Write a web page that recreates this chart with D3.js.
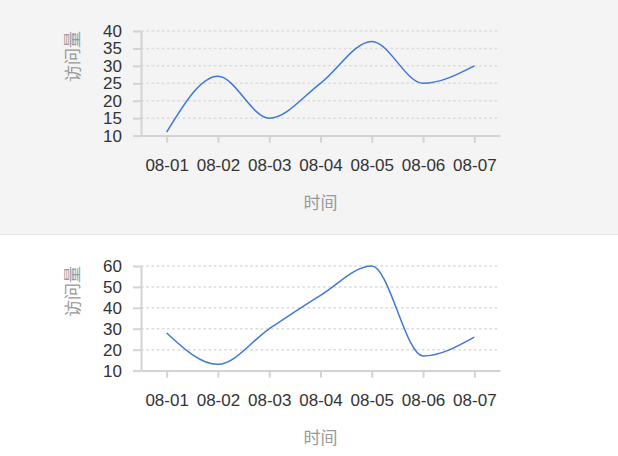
<!DOCTYPE html>
<html>
<head>
<meta charset="utf-8">
<script src="https://cdn.jsdelivr.net/npm/d3@7"></script>
<style>
  body { margin: 0; background: #fff; }
  svg { display: block; font-family: "Liberation Sans", Arial, "Noto Sans CJK SC", sans-serif; }
  .tick text { fill: #333; font-size: 17px; }
  .axis-title { fill: #999; font-size: 17px; }
</style>
</head>
<body>
<svg width="618" height="456"></svg>
<script>
var dates = ['08-01', '08-02', '08-03', '08-04', '08-05', '08-06', '08-07'];
var visitsTop = [11, 27, 15, 25, 37, 25, 30];
var visitsBottom = [28, 13, 30, 46, 60, 17, 26];
var ticksTop = [10, 15, 20, 25, 30, 35, 40];
var ticksBottom = [10, 20, 30, 40, 50, 60];

var panels = [
  {values: visitsTop, ticks: ticksTop, bg: '#f4f4f4'},
  {values: visitsBottom, ticks: ticksBottom, bg: '#fff'}
];

var svg = d3.select('svg');
var panelH = 235;
var plot = {left: 141, right: 500, top: 31, bottom: 135.6};

var x = d3.scalePoint()
  .domain(dates)
  .range([plot.left, plot.right])
  .padding(0.5);

panels.forEach(function(p, i) {
  var g = svg.append('g')
    .attr('transform', 'translate(0,' + (i * panelH) + ')');

  g.append('rect')
    .attr('width', 618)
    .attr('height', i === 0 ? panelH - 1 : 456 - panelH)
    .attr('fill', p.bg);
  if (i === 0) {
    g.append('line')
      .attr('x1', 0).attr('x2', 618)
      .attr('y1', panelH - 0.5).attr('y2', panelH - 0.5)
      .attr('stroke', '#e6e6e6');
  }

  var y = d3.scaleLinear()
    .domain([p.ticks[0], p.ticks[p.ticks.length - 1]])
    .range([plot.bottom, plot.top]);

  // dashed grid
  g.append('g')
    .selectAll('line.grid')
    .data(p.ticks.slice(1))
    .enter()
      .append('line')
      .attr('x1', plot.left)
      .attr('x2', plot.right - 2)
      .attr('y1', function(d) { return y(d); })
      .attr('y2', function(d) { return y(d); })
      .attr('stroke', '#dcdcdc')
      .attr('stroke-width', 1.5)
      .attr('stroke-dasharray', '2.7,2.5');

  // y axis
  var yAxis = g.append('g')
    .attr('transform', 'translate(' + plot.left + ',0)')
    .call(d3.axisLeft(y).tickValues(p.ticks).tickSizeInner(8).tickSizeOuter(0).tickPadding(11));
  yAxis.selectAll('path, line').attr('stroke', '#d3d3d3').attr('stroke-width', 2);
  yAxis.selectAll('text').attr('font-family', null).attr('font-size', null);

  // x axis
  var xAxis = g.append('g')
    .attr('transform', 'translate(0,' + plot.bottom + ')')
    .call(d3.axisBottom(x).tickSizeInner(7).tickSizeOuter(0).tickPadding(16));
  xAxis.selectAll('path, line').attr('stroke', '#d3d3d3').attr('stroke-width', 2);
  xAxis.selectAll('text').attr('font-family', null).attr('font-size', null);

  // line
  var line = d3.line()
    .x(function(d, j) { return x(dates[j]); })
    .y(function(d) { return y(d); })
    .curve(d3.curveMonotoneX);

  g.append('path')
    .datum(p.values)
    .attr('d', line)
    .attr('fill', 'none')
    .attr('stroke', '#3f78d6')
    .attr('stroke-width', 1.5);

  // titles
  g.append('text')
    .attr('class', 'axis-title')
    .attr('x', (plot.left + plot.right) / 2)
    .attr('y', 209)
    .attr('text-anchor', 'middle')
    .text('时间');

  g.append('text')
    .attr('class', 'axis-title')
    .attr('transform', 'translate(79,' + plot.top + ') rotate(-90)')
    .attr('text-anchor', 'end')
    .text('访问量');
});
</script>
</body>
</html>
